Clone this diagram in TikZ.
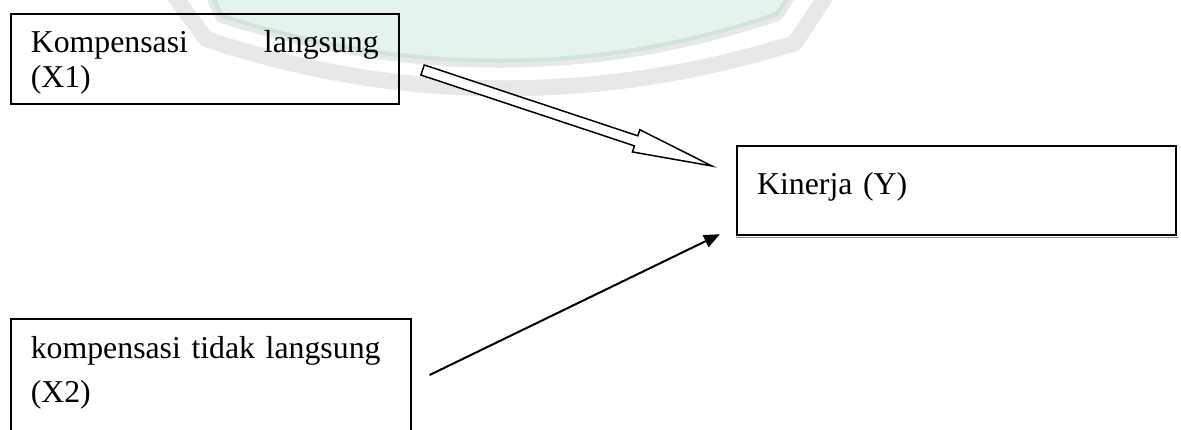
\documentclass[tikz,border=0pt]{standalone}
\usepackage{fontspec}
\setmainfont{Liberation Serif}
\usetikzlibrary{calc,arrows.meta}
\definecolor{markfill}{HTML}{E4F3EC}
\definecolor{markedge}{HTML}{D2E4D9}
\definecolor{markgrey}{HTML}{E8E8E8}
\tikzset{
  varbox/.style={draw=black, line width=1.6pt, anchor=north west,
    inner xsep=20pt, inner ysep=0pt, align=left,
    font=\fontsize{31.8}{35}\selectfont},
  blockarrow/.style={draw=black, fill=white, line width=1.5pt, line join=miter},
  linkarrow/.style={line width=2pt, -{Triangle[length=16pt,width=13pt]}},
}
\begin{document}
\begin{tikzpicture}[x=1pt, y=-1pt]
  \path[use as bounding box] (0,0) rectangle (1181,429);
  \clip (0,0) rectangle (1181,429);

  % faint emblem in the background
  \draw[markgrey, line width=16pt, line join=round]
    (170,-10) -- (206,39) .. controls (400,104) and (600,104) .. (795,43) -- (830,-10);
  \draw[markgrey, line width=14pt, line join=round]
    (210,-10) -- (222,16) .. controls (410,76) and (595,76) .. (777,14) -- (792,-10);
  \fill[markfill]
    (210,-10) -- (222,16) .. controls (410,76) and (595,76) .. (777,14) -- (792,-10) -- cycle;
  \draw[markedge, line width=4pt, line join=round]
    (210,-10) -- (222,16) .. controls (410,76) and (595,76) .. (777,14) -- (792,-10);

  % variables
  \node[varbox, text width=348pt, text height=39pt, text depth=51pt] (x1) at (10,13)
    {Kompensasi\hfill langsung\\(X1)};
  \node[varbox, font=\fontsize{31.8}{44}\selectfont, text width=360pt,
        text height=40pt, text depth=160pt] (x2) at (10,318)
    {kompensasi tidak langsung\\(X2)};
  \node[varbox, line width=2.2pt, text width=399pt, text height=48pt, text depth=41pt] (y) at (736,145)
    {Kinerja (Y)};
  % soft shadow under the Y box
  \draw[black!45, line width=1.2pt] ($(y.south west)+(0,1.6)$) -- ($(y.south east)+(1.1,1.6)$);

  % hollow block arrow X1 -> Y
  \coordinate (a1s) at ($(x1.north east)+(23,57)$);
  \coordinate (a1e) at ($(y.north west)+(-24,21)$);
  \coordinate (a1h) at ($(a1s)!225pt!(a1e)$);
  \draw[blockarrow]
    ($(a1s)!5.3pt!90:(a1e)$) -- ($(a1h)!5.3pt!90:(a1e)$) -- ($(a1h)!11.7pt!90:(a1e)$)
    -- (a1e)
    -- ($(a1h)!11.7pt!-90:(a1e)$) -- ($(a1h)!5.3pt!-90:(a1e)$) -- ($(a1s)!5.3pt!-90:(a1e)$)
    -- cycle;

  % plain arrow X2 -> Y
  \coordinate (a2s) at ($(x2.north east)+(18,57)$);
  \coordinate (a2e) at ($(y.south west)+(-16,-2)$);
  \draw[linkarrow] (a2s) -- (a2e);
\end{tikzpicture}
\end{document}
